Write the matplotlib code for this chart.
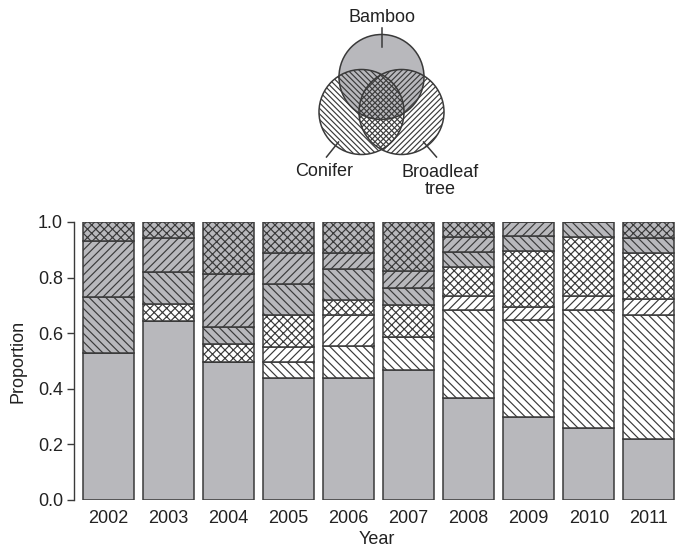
import matplotlib
matplotlib.use("Agg")
import matplotlib.pyplot as plt
from matplotlib.patches import Circle
import numpy as np

plt.rcParams['font.family'] = ['Liberation Sans', 'DejaVu Sans']
plt.rcParams['hatch.linewidth'] = 0.85

years = ['2002', '2003', '2004', '2005', '2006', '2007', '2008', '2009', '2010', '2011']
bamboo    = [0.530, 0.644, 0.498, 0.440, 0.440, 0.468, 0.366, 0.297, 0.260, 0.218]
conifer   = [0.000, 0.000, 0.000, 0.058, 0.114, 0.117, 0.317, 0.350, 0.423, 0.447]
broadleaf = [0.000, 0.000, 0.000, 0.054, 0.110, 0.000, 0.052, 0.048, 0.052, 0.057]
con_broad = [0.000, 0.060, 0.062, 0.112, 0.055, 0.116, 0.104, 0.202, 0.210, 0.165]
bam_con   = [0.201, 0.117, 0.063, 0.112, 0.112, 0.063, 0.054, 0.053, 0.055, 0.057]
bam_broad = [0.202, 0.120, 0.189, 0.111, 0.056, 0.060, 0.054, 0.050, 0.000, 0.000]
all_three = [0.067, 0.059, 0.188, 0.113, 0.113, 0.176, 0.053, 0.000, 0.000, 0.056]
yticks = [0.0, 0.2, 0.4, 0.6, 0.8, 1.0]

GRAY = '#b8b8bc'
EDGE = '#3a3a3a'
TXT = '#222222'
FS = 13

series = [
    (bamboo, GRAY, ''),
    (conifer, 'white', '\\' * 4),
    (broadleaf, 'white', '/' * 4),
    (con_broad, 'white', 'x' * 4),
    (bam_con, GRAY, '\\' * 4),
    (bam_broad, GRAY, '/' * 4),
    (all_three, GRAY, 'x' * 4),
]

W, H = 679, 550
fig = plt.figure(figsize=(W / 100, H / 100), dpi=100)

ax = fig.add_axes([74 / W, 50 / H, (W - 74) / W, 278 / H])
x = np.arange(len(years))
bottom = np.zeros(len(years))
for vals, fc, hatch in series:
    v = np.array(vals)
    ax.bar(x, v, width=0.85, bottom=bottom, color=fc, edgecolor=EDGE,
           linewidth=1.1, hatch=hatch)
    bottom += v

ax.set_xlim(-0.57, 9.5)
ax.set_ylim(0, 1.0)
ax.set_yticks(yticks)
ax.set_yticklabels([f'{t:.1f}' for t in yticks], fontsize=FS, color=TXT)
ax.set_xticks(x)
ax.set_xticklabels(years, fontsize=FS, color=TXT)
ax.tick_params(axis='x', length=0, pad=7)
ax.tick_params(axis='y', length=5, width=1, color=EDGE, pad=3)
for s in ['top', 'right', 'bottom']:
    ax.spines[s].set_visible(False)
ax.spines['left'].set_color(EDGE)
ax.spines['left'].set_linewidth(1)
ax.spines['left'].set_bounds(0, 1)
ax.set_ylabel('Proportion', fontsize=FS, color=TXT, labelpad=8)
ax.set_xlabel('Year', fontsize=FS, color=TXT, labelpad=3)
ax.patch.set_visible(False)

# Venn diagram legend
vx = fig.add_axes([0, 0, 1, 1], zorder=-1)
vx.set_xlim(0, W)
vx.set_ylim(H, 0)
vx.axis('off')
r = 42.5
vx.add_patch(Circle((381.5, 77), r, facecolor=GRAY, edgecolor=EDGE, linewidth=1.1))
vx.add_patch(Circle((361.5, 112), r, fill=False, edgecolor=EDGE, linewidth=1.1, hatch='\\' * 6))
vx.add_patch(Circle((401.5, 112), r, fill=False, edgecolor=EDGE, linewidth=1.1, hatch='/' * 6))
vx.plot([381.5, 381.5], [28, 47], color=EDGE, lw=1.1)
vx.plot([326.5, 338.5], [157, 142], color=EDGE, lw=1.1)
vx.plot([423.5, 436.5], [142, 157], color=EDGE, lw=1.1)
vx.text(381.5, 17, 'Bamboo', ha='center', va='center', fontsize=FS, color=TXT)
vx.text(324, 172, 'Conifer', ha='center', va='center', fontsize=FS, color=TXT)
vx.text(440, 181, 'Broadleaf\ntree', ha='center', va='center', fontsize=FS,
        color=TXT, linespacing=1.05)

fig.savefig('out.png', dpi=100)
